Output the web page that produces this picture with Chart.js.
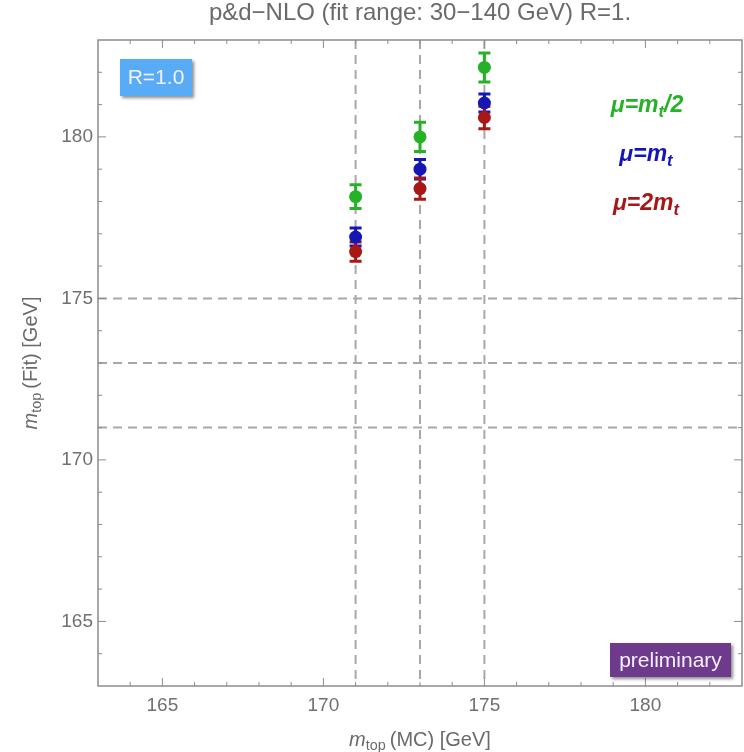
<!DOCTYPE html>
<html>
<head>
<meta charset="utf-8">
<script src="https://cdn.jsdelivr.net/npm/chart.js@4.4.0/dist/chart.umd.min.js"></script>
<style>
  html, body { margin: 0; padding: 0; background: #fff; }
  #wrap { width: 744px; height: 752px; position: relative; }
</style>
</head>
<body>
<div id="wrap"><canvas id="massChart" width="744" height="752"></canvas></div>
<script>
// data
const mcMass = [171, 173, 175];
const fitHalf = [178.15, 180.0, 182.15];
const errHalf = [0.37, 0.45, 0.45];
const fitOne = [176.9, 179.0, 181.05];
const errOne = [0.28, 0.3, 0.28];
const fitTwo = [176.45, 178.4, 180.6];
const errTwo = [0.3, 0.33, 0.35];

const xTicks = [165, 170, 175, 180];
const yTicks = [165, 170, 175, 180];
const refX = [171, 173, 175];
const refY = [171, 173, 175];
const axisMin = 163;
const axisMax = 183;

const FONT = "'Liberation Sans', Arial, sans-serif";
const colHalf = "rgb(38,178,38)";
const colOne = "rgb(22,22,180)";
const colTwo = "rgb(168,22,22)";
const titleText = "p&d\u2212NLO (fit range: 30\u2212140 GeV) R=1.";

function toPoints(ys) {
  return mcMass.map((x, i) => ({ x: x, y: ys[i] }));
}

// draws text pieces, some as subscripts
function drawMath(ctx, parts, x, y, size, weight, align) {
  const fontOf = p => (p.italic ? "italic " : "") + weight + " " +
    (p.sub ? size * 0.72 : size) + "px " + FONT;
  let w = 0;
  parts.forEach(p => {
    ctx.font = fontOf(p);
    w += ctx.measureText(p.t).width;
  });
  let cx = align === "center" ? x - w / 2 : x;
  ctx.textAlign = "left";
  ctx.textBaseline = "middle";
  parts.forEach(p => {
    ctx.font = fontOf(p);
    ctx.fillText(p.t, cx, p.sub ? y + size * 0.3 : y);
    cx += ctx.measureText(p.t).width;
  });
}

function drawBox(ctx, x, y, w, h, fill, text, size) {
  ctx.save();
  ctx.shadowColor = "rgba(0,0,0,0.45)";
  ctx.shadowOffsetX = 2;
  ctx.shadowOffsetY = 2;
  ctx.shadowBlur = 3;
  ctx.fillStyle = fill;
  ctx.fillRect(x, y, w, h);
  ctx.restore();
  ctx.fillStyle = "#f4f0ff";
  ctx.font = size + "px " + FONT;
  ctx.textAlign = "center";
  ctx.textBaseline = "middle";
  ctx.fillText(text, x + w / 2, y + h / 2 + 1);
}

const errorSets = [errHalf, errOne, errTwo];

const framePlugin = {
  id: "frame",
  beforeDatasetsDraw(chart) {
    const ctx = chart.ctx;
    const a = chart.chartArea;
    const xs = chart.scales.x;
    const ys = chart.scales.y;
    ctx.save();
    // dashed reference lines
    ctx.strokeStyle = "#a8a8a8";
    ctx.lineWidth = 2;
    ctx.setLineDash([9, 6]);
    refX.forEach(v => {
      const px = xs.getPixelForValue(v);
      ctx.beginPath();
      ctx.moveTo(px, a.top);
      ctx.lineTo(px, a.bottom);
      ctx.stroke();
    });
    refY.forEach(v => {
      const py = ys.getPixelForValue(v);
      ctx.beginPath();
      ctx.moveTo(a.left, py);
      ctx.lineTo(a.right, py);
      ctx.stroke();
    });
    ctx.setLineDash([]);
    // error bars
    chart.data.datasets.forEach((ds, di) => {
      const errs = errorSets[di];
      ctx.strokeStyle = ds.backgroundColor;
      ctx.lineWidth = 3;
      ds.data.forEach((p, i) => {
        const px = xs.getPixelForValue(p.x);
        const top = ys.getPixelForValue(p.y + errs[i]);
        const bot = ys.getPixelForValue(p.y - errs[i]);
        ctx.beginPath();
        ctx.moveTo(px, top);
        ctx.lineTo(px, bot);
        ctx.moveTo(px - 6, top);
        ctx.lineTo(px + 6, top);
        ctx.moveTo(px - 6, bot);
        ctx.lineTo(px + 6, bot);
        ctx.stroke();
      });
    });
    ctx.restore();
  },
  afterDraw(chart) {
    const ctx = chart.ctx;
    const a = chart.chartArea;
    const xs = chart.scales.x;
    const ys = chart.scales.y;
    const midX = (a.left + a.right) / 2;
    ctx.save();
    // title, centred over the plot frame
    ctx.fillStyle = "#6a6a6a";
    ctx.font = "24px " + FONT;
    ctx.textAlign = "center";
    ctx.textBaseline = "middle";
    ctx.fillText(titleText, midX, 13);
    // frame with inward ticks
    ctx.strokeStyle = "#8c8c8c";
    ctx.lineWidth = 1.5;
    ctx.strokeRect(a.left, a.top, a.right - a.left, a.bottom - a.top);
    ctx.lineWidth = 1;
    for (let v = axisMin + 1; v < axisMax; v++) {
      const len = v % 5 === 0 ? 8 : 4;
      const px = xs.getPixelForValue(v);
      const py = ys.getPixelForValue(v);
      ctx.beginPath();
      ctx.moveTo(px, a.bottom); ctx.lineTo(px, a.bottom - len);
      ctx.moveTo(px, a.top); ctx.lineTo(px, a.top + len);
      ctx.moveTo(a.left, py); ctx.lineTo(a.left + len, py);
      ctx.moveTo(a.right, py); ctx.lineTo(a.right - len, py);
      ctx.stroke();
    }
    // axis titles
    ctx.fillStyle = "#6a6a6a";
    drawMath(ctx, [{ t: "m", italic: true }, { t: "top ", sub: true }, { t: "(MC) [GeV]" }],
      midX, 740, 20, "normal", "center");
    ctx.save();
    ctx.translate(31, (a.top + a.bottom) / 2);
    ctx.rotate(-Math.PI / 2);
    drawMath(ctx, [{ t: "m", italic: true }, { t: "top ", sub: true }, { t: "(Fit) [GeV]" }],
      0, 0, 20, "normal", "center");
    ctx.restore();
    // legend labels
    ctx.fillStyle = colHalf;
    drawMath(ctx, [{ t: "\u03bc=m", italic: true }, { t: "t", sub: true, italic: true }, { t: "/2", italic: true }],
      647, 106, 23, "bold", "center");
    ctx.fillStyle = colOne;
    drawMath(ctx, [{ t: "\u03bc=m", italic: true }, { t: "t", sub: true, italic: true }],
      646, 155, 23, "bold", "center");
    ctx.fillStyle = colTwo;
    drawMath(ctx, [{ t: "\u03bc=2m", italic: true }, { t: "t", sub: true, italic: true }],
      646, 204, 23, "bold", "center");
    // boxes
    drawBox(ctx, 120, 59, 72, 37, "rgb(88,172,245)", "R=1.0", 21);
    drawBox(ctx, 610, 643, 121, 34, "rgb(110,58,140)", "preliminary", 21);
    ctx.restore();
  }
};

const ctx = document.getElementById("massChart").getContext("2d");
const massChart = new Chart(ctx, {
  type: "scatter",
  data: {
    datasets: [
      { label: "mu=mt/2", data: toPoints(fitHalf), backgroundColor: colHalf, borderWidth: 0, pointRadius: 6.5 },
      { label: "mu=mt", data: toPoints(fitOne), backgroundColor: colOne, borderWidth: 0, pointRadius: 6.5 },
      { label: "mu=2mt", data: toPoints(fitTwo), backgroundColor: colTwo, borderWidth: 0, pointRadius: 6.5 }
    ]
  },
  options: {
    responsive: false,
    animation: false,
    devicePixelRatio: 1,
    layout: { autoPadding: false, padding: { left: 0, right: 2, top: 40, bottom: 0 } },
    plugins: {
      legend: { display: false },
      tooltip: { enabled: false },
      title: { display: false }
    },
    scales: {
      x: {
        type: "linear",
        min: axisMin,
        max: axisMax,
        afterBuildTicks: s => { s.ticks = xTicks.map(v => ({ value: v })); },
        afterFit: s => { s.height = 66; s.paddingLeft = 0; s.paddingRight = 0; },
        grid: { display: false, drawTicks: false },
        border: { display: false },
        ticks: { color: "#707070", font: { family: FONT, size: 19 }, padding: 8, maxRotation: 0 }
      },
      y: {
        type: "linear",
        min: axisMin,
        max: axisMax,
        afterBuildTicks: s => { s.ticks = yTicks.map(v => ({ value: v })); },
        afterFit: s => { s.width = 98; s.paddingTop = 0; s.paddingBottom = 0; },
        grid: { display: false, drawTicks: false },
        border: { display: false },
        ticks: { color: "#707070", font: { family: FONT, size: 19 }, padding: 5 }
      }
    }
  },
  plugins: [framePlugin]
});
</script>
</body>
</html>
